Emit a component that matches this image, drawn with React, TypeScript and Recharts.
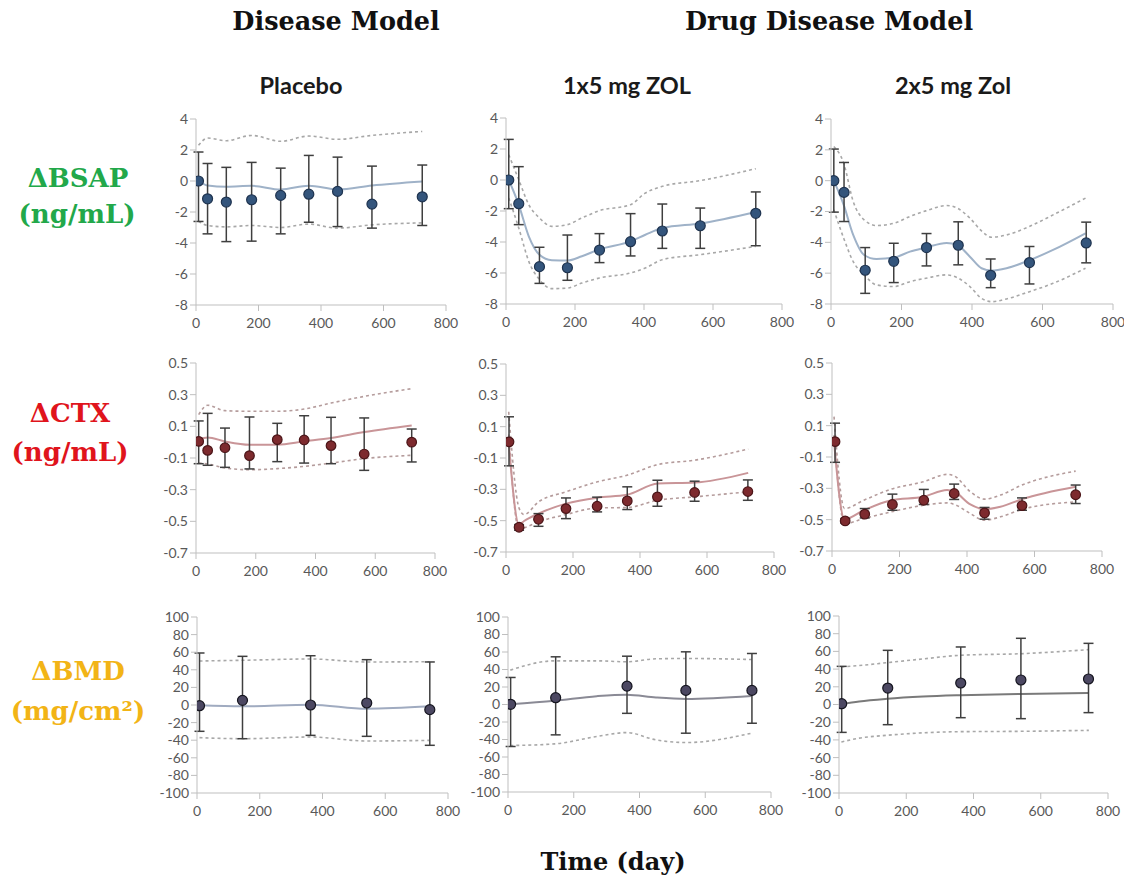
import React from 'react';
import { ComposedChart, Line, Scatter, ErrorBar, XAxis, YAxis } from 'recharts';

// ---- observed data (mean, lower / upper end of error bar) ----
const bsapDays = [8, 37, 97, 178, 271, 361, 453, 563, 724];
const ctxDays = [9, 39, 97, 179, 272, 362, 452, 563, 722];
const bmdDays = [8, 145, 362, 541, 742];

const bsapPlaceboMean = [0, -1.15, -1.36, -1.21, -0.93, -0.85, -0.67, -1.49, -1.02];
const bsapPlaceboLow = [-2.61, -3.41, -3.91, -3.88, -3.41, -2.66, -2.94, -3.04, -2.87];
const bsapPlaceboHigh = [1.87, 1.13, 0.88, 1.2, 0.83, 1.65, 1.54, 0.96, 1.03];

const bsap1x5Mean = [0, -1.53, -5.59, -5.66, -4.52, -3.98, -3.29, -2.95, -2.15];
const bsap1x5Low = [-1.85, -2.88, -6.67, -6.47, -5.33, -4.9, -4.41, -4.41, -4.24];
const bsap1x5High = [2.62, 0.86, -4.34, -3.55, -3.46, -2.17, -1.55, -1.81, -0.77];

const bsap2x5Mean = [0, -0.76, -5.81, -5.23, -4.34, -4.19, -6.14, -5.31, -4.04];
const bsap2x5Low = [-2.04, -2.65, -7.31, -6.61, -5.53, -5.46, -6.94, -6.7, -5.33];
const bsap2x5High = [2.05, 1.18, -4.34, -4.06, -3.43, -2.67, -5.08, -4.27, -2.69];

const ctxPlaceboMean = [0.005, -0.052, -0.035, -0.085, 0.016, 0.014, -0.022, -0.075, 0.0];
const ctxPlaceboLow = [-0.136, -0.146, -0.159, -0.169, -0.123, -0.132, -0.136, -0.178, -0.125];
const ctxPlaceboHigh = [0.134, 0.182, 0.089, 0.159, 0.119, 0.167, 0.157, 0.153, 0.083];

const ctx1x5Mean = [0.003, -0.542, -0.491, -0.423, -0.408, -0.374, -0.348, -0.32, -0.314];
const ctx1x5Low = [-0.15, -0.561, -0.536, -0.487, -0.444, -0.429, -0.408, -0.376, -0.37];
const ctx1x5High = [0.163, -0.525, -0.455, -0.355, -0.35, -0.284, -0.242, -0.248, -0.24];

const ctx2x5Mean = [-0.002, -0.508, -0.465, -0.403, -0.376, -0.333, -0.457, -0.41, -0.341];
const ctx2x5Low = [-0.134, -0.521, -0.489, -0.44, -0.403, -0.371, -0.497, -0.44, -0.397];
const ctx2x5High = [0.116, -0.493, -0.429, -0.337, -0.307, -0.273, -0.422, -0.361, -0.279];

const bmdPlaceboMean = [-0.8, 5.3, 0, 2.3, -5.3];
const bmdPlaceboLow = [-29.9, -38.3, -34.5, -35.6, -45.8];
const bmdPlaceboHigh = [59.1, 55.3, 56, 51.5, 48.9];

const bmd1x5Mean = [0.2, 7.8, 21, 16.1, 16.1];
const bmd1x5Low = [-48, -34.7, -10.1, -32.8, -21.4];
const bmd1x5High = [30.9, 54.5, 55.2, 60.2, 58.3];

const bmd2x5Mean = [0.9, 18.6, 24.3, 27.7, 28.8];
const bmd2x5Low = [-31.5, -22.8, -14.9, -16, -9.2];
const bmd2x5High = [43.1, 61.2, 65, 74.8, 69.1];

// ---- model prediction (median, 5th / 95th percentile) ----
const bsapPlaceboModelDays = bsapDays;
const bsapPlaceboPred = [0, -0.29, -0.37, -0.31, -0.55, -0.3, -0.55, -0.29, -0.03];
const bsapPlaceboUpper = [2.3, 2.77, 2.6, 2.94, 2.56, 2.9, 2.69, 2.94, 3.2];
const bsapPlaceboLower = [-2.6, -2.87, -2.96, -2.87, -3.0, -2.78, -3.04, -2.83, -2.7];

const bsap1x5ModelDays = [8, 37, 66, 97, 133, 178, 220, 271, 361, 404, 453, 563, 724];
const bsap1x5Pred = [0, -1.6, -3.63, -4.82, -5.18, -5.2, -4.92, -4.47, -3.96, -3.53, -3.1, -2.8, -2.06];
const bsap1x5Upper = [1.63, 0.02, -1.59, -2.45, -2.99, -2.88, -2.45, -1.98, -1.59, -0.84, -0.41, -0.04, 0.73];
const bsap1x5Lower = [-1.16, -3.1, -5.25, -6.43, -7.01, -6.97, -6.65, -6.32, -6.0, -5.68, -5.14, -4.82, -4.28];

const bsap2x5ModelDays = [8, 36, 63, 94, 129, 179, 224, 269, 328, 358, 394, 427, 455, 498, 563, 630, 722];
const bsap2x5Pred = [0, -1.57, -3.52, -4.82, -5.08, -4.99, -4.6, -4.34, -4.04, -4.17, -4.93, -5.68, -5.83, -5.68, -5.16, -4.49, -3.41];
const bsap2x5Upper = [2.22, 1.14, -1.35, -2.54, -2.91, -2.76, -2.32, -1.96, -1.61, -1.78, -2.43, -3.26, -3.67, -3.52, -2.97, -2.22, -1.13];
const bsap2x5Lower = [-1.89, -3.73, -5.25, -6.11, -6.76, -6.87, -6.55, -6.33, -6.11, -6.29, -6.87, -7.63, -7.85, -7.67, -7.2, -6.66, -5.68];

const ctxPlaceboModelDays = ctxDays;
const ctxPlaceboPred = [0.016, 0.03, 0.005, -0.016, -0.016, 0.005, 0.026, 0.064, 0.106];
const ctxPlaceboUpper = [0.174, 0.233, 0.199, 0.195, 0.195, 0.209, 0.247, 0.289, 0.338];
const ctxPlaceboLower = [-0.132, -0.138, -0.163, -0.174, -0.167, -0.153, -0.132, -0.104, -0.083];

const ctx1x5ModelDays = [8, 39, 54, 97, 179, 273, 361, 453, 563, 723];
const ctx1x5Pred = [0, -0.525, -0.502, -0.455, -0.391, -0.353, -0.335, -0.263, -0.257, -0.195];
const ctx1x5Upper = [0.195, -0.42, -0.461, -0.38, -0.316, -0.252, -0.21, -0.142, -0.114, -0.043];
const ctx1x5Lower = [0.05, -0.561, -0.547, -0.508, -0.461, -0.419, -0.416, -0.37, -0.348, -0.316];

const ctx2x5ModelDays = [6, 37, 94, 176, 271, 341, 363, 410, 451, 499, 563, 722];
const ctx2x5Pred = [0, -0.497, -0.44, -0.376, -0.354, -0.311, -0.322, -0.403, -0.433, -0.418, -0.369, -0.29];
const ctx2x5Upper = [0.158, -0.429, -0.376, -0.305, -0.258, -0.211, -0.222, -0.322, -0.369, -0.343, -0.279, -0.19];
const ctx2x5Lower = [0.04, -0.525, -0.493, -0.45, -0.408, -0.393, -0.403, -0.461, -0.504, -0.482, -0.435, -0.386];

const bmdPlaceboModelDays = bmdDays;
const bmdPlaceboPred = [-0.4, -1.5, 0.4, -4.2, -1.5];
const bmdPlaceboUpper = [50, 50.8, 52.3, 48.9, 49.2];
const bmdPlaceboLower = [-37.1, -38.3, -36.4, -40.9, -40.2];

const bmd1x5ModelDays = [7, 142, 270, 361, 450, 541, 741];
const bmd1x5Pred = [0.2, 4.4, 9.5, 11.2, 8, 6.3, 9.7];
const bmd1x5Upper = [39.3, 49.9, 49.9, 48.8, 52.2, 52.6, 51.4];
const bmd1x5Lower = [-46.9, -45, -36.6, -32.1, -40.4, -43.5, -32.8];

const bmd2x5ModelDays = [7, 60, 143, 250, 360, 541, 743];
const bmd2x5Pred = [0.5, 3.5, 6.5, 9, 10.5, 12, 13];
const bmd2x5Upper = [42.4, 44, 47.3, 51.5, 55.6, 57.4, 62];
const bmd2x5Lower = [-42.4, -38, -34.8, -32, -30.7, -30.3, -29.2];

// ---- axes ----
const dayTicks = [0, 200, 400, 600, 800];
const bsapTicks = [-8, -6, -4, -2, 0, 2, 4];
const ctxTicks = [-0.7, -0.5, -0.3, -0.1, 0.1, 0.3, 0.5];
const bmdTicks = [-100, -80, -60, -40, -20, 0, 20, 40, 60, 80, 100];

const makeObs = (days: number[], mean: number[], low: number[], high: number[]) =>
  days.map((d, i) => ({ day: d, value: mean[i], err: [mean[i] - low[i], high[i] - mean[i]] }));

const makeModel = (days: number[], pred: number[], lower: number[], upper: number[]) =>
  days.map((d, i) => ({ day: d, pred: pred[i], lower: lower[i], upper: upper[i] }));

const BSAP = { dot: '#34557c', dotStroke: '#1f3450', line: '#9fb2c8', band: '#a8a8a8' };
const CTX = { dot: '#7d2a2e', dotStroke: '#4b1518', line: '#c99598', band: '#b59c9c' };
const BMD = { dot: '#4c4862', dotStroke: '#15151f', line: '#8a8a95', band: '#a8a8a8' };

const YW = 50;
const MT = 10;
const MR = 20;
const XH = 34;

const panels = [
  { left: 196, right: 446, top: 119, bottom: 305, ticks: bsapTicks, colors: BSAP, r: 5,
    obs: makeObs(bsapDays, bsapPlaceboMean, bsapPlaceboLow, bsapPlaceboHigh),
    model: makeModel(bsapPlaceboModelDays, bsapPlaceboPred, bsapPlaceboLower, bsapPlaceboUpper) },
  { left: 506, right: 782, top: 118, bottom: 304, ticks: bsapTicks, colors: BSAP, r: 5,
    obs: makeObs(bsapDays, bsap1x5Mean, bsap1x5Low, bsap1x5High),
    model: makeModel(bsap1x5ModelDays, bsap1x5Pred, bsap1x5Lower, bsap1x5Upper) },
  { left: 831, right: 1113, top: 119, bottom: 304, ticks: bsapTicks, colors: BSAP, r: 5,
    obs: makeObs(bsapDays, bsap2x5Mean, bsap2x5Low, bsap2x5High),
    model: makeModel(bsap2x5ModelDays, bsap2x5Pred, bsap2x5Lower, bsap2x5Upper) },
  { left: 196, right: 435, top: 363, bottom: 553, ticks: ctxTicks, colors: CTX, r: 4.8,
    obs: makeObs(ctxDays, ctxPlaceboMean, ctxPlaceboLow, ctxPlaceboHigh),
    model: makeModel(ctxPlaceboModelDays, ctxPlaceboPred, ctxPlaceboLower, ctxPlaceboUpper) },
  { left: 506, right: 774, top: 364, bottom: 552, ticks: ctxTicks, colors: CTX, r: 4.8,
    obs: makeObs(ctxDays, ctx1x5Mean, ctx1x5Low, ctx1x5High),
    model: makeModel(ctx1x5ModelDays, ctx1x5Pred, ctx1x5Lower, ctx1x5Upper) },
  { left: 832, right: 1102, top: 363, bottom: 551, ticks: ctxTicks, colors: CTX, r: 4.8,
    obs: makeObs(ctxDays, ctx2x5Mean, ctx2x5Low, ctx2x5High),
    model: makeModel(ctx2x5ModelDays, ctx2x5Pred, ctx2x5Lower, ctx2x5Upper) },
  { left: 197, right: 448, top: 617, bottom: 793, ticks: bmdTicks, colors: { ...BMD, line: '#a0abc0' }, r: 5,
    obs: makeObs(bmdDays, bmdPlaceboMean, bmdPlaceboLow, bmdPlaceboHigh),
    model: makeModel(bmdPlaceboModelDays, bmdPlaceboPred, bmdPlaceboLower, bmdPlaceboUpper) },
  { left: 508, right: 771, top: 617, bottom: 792, ticks: bmdTicks, colors: BMD, r: 5,
    obs: makeObs(bmdDays, bmd1x5Mean, bmd1x5Low, bmd1x5High),
    model: makeModel(bmd1x5ModelDays, bmd1x5Pred, bmd1x5Lower, bmd1x5Upper) },
  { left: 839, right: 1108, top: 616, bottom: 793, ticks: bmdTicks, colors: { ...BMD, line: '#7a7a7a' }, r: 5,
    obs: makeObs(bmdDays, bmd2x5Mean, bmd2x5Low, bmd2x5High),
    model: makeModel(bmd2x5ModelDays, bmd2x5Pred, bmd2x5Lower, bmd2x5Upper) },
];

const tickStyle = { fill: '#595959', fontSize: 14, fontFamily: 'Lato, sans-serif' };

function Panel({ p }: { p: any }) {
  const w = YW + (p.right - p.left) + MR;
  const h = MT + (p.bottom - p.top) + XH;
  const c = p.colors;
  const ticks = p.ticks;
  return (
    <div style={{ position: 'absolute', left: p.left - YW, top: p.top - MT, width: w, height: h }}>
      <ComposedChart width={w} height={h} margin={{ top: MT, right: MR, left: 0, bottom: 0 }}>
        <XAxis
          type="number"
          dataKey="day"
          domain={[0, 800]}
          ticks={dayTicks}
          interval={0}
          allowDataOverflow
          height={XH}
          tick={tickStyle}
          tickMargin={7}
          axisLine={{ stroke: '#bfbfbf' }}
          tickLine={{ stroke: '#bfbfbf' }}
        />
        <YAxis
          type="number"
          domain={[ticks[0], ticks[ticks.length - 1]]}
          ticks={ticks}
          interval={0}
          allowDataOverflow
          width={YW}
          tick={tickStyle}
          tickFormatter={(v: number) => String(v)}
          axisLine={{ stroke: '#bfbfbf' }}
          tickLine={{ stroke: '#bfbfbf' }}
        />
        <Line data={p.model} dataKey="upper" type="monotone" stroke={c.band} strokeWidth={1.6}
          strokeDasharray="3 3" dot={false} isAnimationActive={false} />
        <Line data={p.model} dataKey="lower" type="monotone" stroke={c.band} strokeWidth={1.6}
          strokeDasharray="3 3" dot={false} isAnimationActive={false} />
        <Line data={p.model} dataKey="pred" type="monotone" stroke={c.line} strokeWidth={2}
          dot={false} isAnimationActive={false} />
        <Scatter
          data={p.obs}
          dataKey="value"
          isAnimationActive={false}
          shape={(s: any) => (
            <circle cx={s.cx} cy={s.cy} r={p.r} fill={c.dot} stroke={c.dotStroke} strokeWidth={1.2} />
          )}
        >
          <ErrorBar dataKey="err" direction="y" width={5} stroke="#3f3f3f" strokeWidth={1.5} />
        </Scatter>
      </ComposedChart>
    </div>
  );
}

function Label({ x, y, size, color, family, children }: any) {
  return (
    <div
      style={{
        position: 'absolute',
        left: x,
        top: y,
        transform: 'translate(-50%, -50%)',
        whiteSpace: 'nowrap',
        fontFamily: family,
        fontWeight: 700,
        fontSize: size,
        color,
        lineHeight: 1,
      }}
    >
      {children}
    </div>
  );
}

const SERIF = '"DejaVu Serif", serif';
const SANS = 'Lato, sans-serif';

export default function App() {
  return (
    <div style={{ position: 'absolute', left: 0, top: 0, width: 1124, height: 879, overflow: 'hidden', background: '#fff' }}>
      <Label x={336} y={22} size={25.5} color="#111" family={SERIF}>Disease Model</Label>
      <Label x={829} y={22} size={25.5} color="#111" family={SERIF}>Drug Disease Model</Label>

      <Label x={301} y={86} size={23.5} color="#1a1a1a" family={SANS}>Placebo</Label>
      <Label x={627} y={86} size={23.5} color="#1a1a1a" family={SANS}>1x5 mg ZOL</Label>
      <Label x={953} y={86} size={23.5} color="#1a1a1a" family={SANS}>2x5 mg Zol</Label>

      <Label x={78} y={178} size={26} color="#22a84a" family={SERIF}>ΔBSAP</Label>
      <Label x={77} y={214} size={26} color="#22a84a" family={SERIF}>(ng/mL)</Label>
      <Label x={70} y={413} size={26} color="#e0141c" family={SERIF}>ΔCTX</Label>
      <Label x={70} y={452} size={26} color="#e0141c" family={SERIF}>(ng/mL)</Label>
      <Label x={78} y={671} size={26} color="#f2b416" family={SERIF}>ΔBMD</Label>
      <Label x={78} y={711} size={26} color="#f2b416" family={SERIF}>(mg/cm²)</Label>

      {panels.map((p, i) => (
        <Panel key={i} p={p} />
      ))}

      <Label x={613} y={862} size={24} color="#111" family={SERIF}>Time (day)</Label>
    </div>
  );
}
